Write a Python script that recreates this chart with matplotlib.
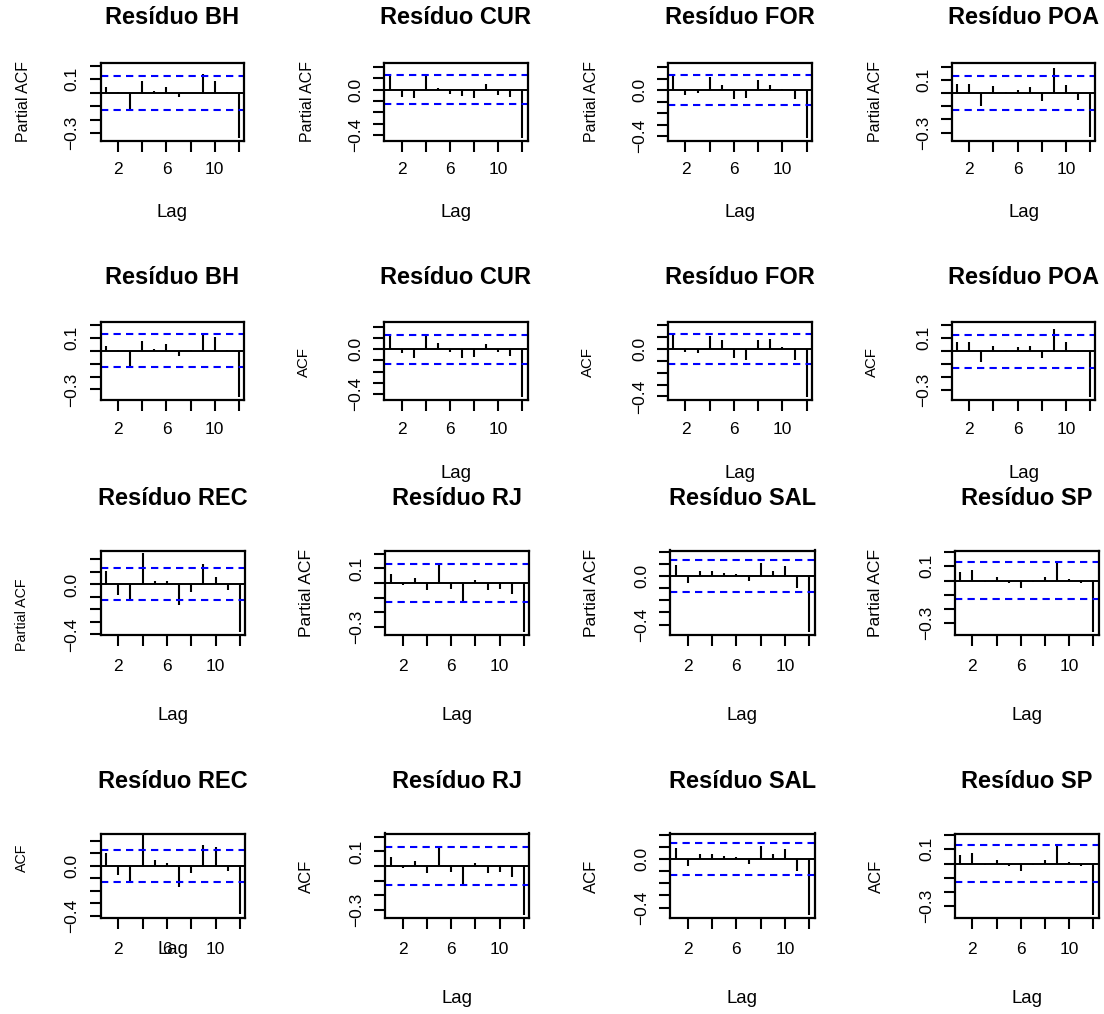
import matplotlib
matplotlib.use("Agg")
import matplotlib.pyplot as plt
import numpy as np

plt.rcParams['font.family'] = ['Liberation Sans', 'DejaVu Sans']

W, H = 1104, 1014
lags = np.arange(1, 13)

# valores (lags 1..12)
pacf_bh = [0.040, 0.004, -0.123, 0.088, 0.010, 0.040, -0.030, -0.004, 0.140, 0.083, 0.007, -0.335]
pacf_cur = [0.115, -0.063, -0.078, 0.127, 0.017, -0.040, -0.058, -0.078, 0.046, -0.049, -0.063, -0.424]
pacf_for = [0.126, -0.043, -0.023, 0.114, 0.043, -0.077, -0.071, 0.086, 0.043, 0.014, -0.074, -0.414]
pacf_poa = [0.070, 0.070, -0.096, 0.050, 0.005, 0.025, 0.045, -0.063, 0.190, 0.063, -0.050, -0.333]
acf_bh = [0.039, 0.004, -0.130, 0.075, 0.013, 0.052, -0.044, 0.004, 0.125, 0.106, 0.004, -0.356]
acf_cur = [0.118, -0.038, -0.074, 0.120, 0.059, -0.024, -0.074, -0.068, 0.050, -0.024, -0.062, -0.426]
acf_for = [0.127, -0.028, -0.034, 0.108, 0.074, -0.071, -0.096, 0.079, 0.085, 0.017, -0.096, -0.402]
acf_poa = [0.067, 0.067, -0.088, 0.039, 0.005, 0.031, 0.039, -0.054, 0.174, 0.073, -0.010, -0.352]
pacf_rec = [0.104, -0.083, -0.123, 0.250, 0.027, 0.027, -0.163, -0.064, 0.165, 0.059, -0.043, -0.380]
pacf_rj = [0.059, -0.014, 0.036, -0.045, 0.139, -0.041, -0.130, 0.023, -0.045, -0.039, -0.077, -0.334]
pacf_sal = [0.089, -0.061, 0.039, 0.044, 0.022, 0.014, -0.042, 0.106, 0.039, 0.083, -0.097, -0.458]
pacf_sp = [0.063, 0.075, -0.007, 0.028, -0.014, -0.052, -0.009, 0.028, 0.127, 0.014, -0.019, -0.359]
acf_rec = [0.100, -0.070, -0.130, 0.250, 0.050, 0.020, -0.170, -0.060, 0.170, 0.150, -0.040, -0.390]
acf_rj = [0.059, -0.014, 0.036, -0.045, 0.139, -0.041, -0.130, 0.023, -0.045, -0.039, -0.077, -0.334]
acf_sal = [0.089, -0.061, 0.039, 0.044, 0.022, 0.014, -0.042, 0.106, 0.039, 0.083, -0.097, -0.458]
acf_sp = [0.063, 0.075, -0.007, 0.028, -0.014, -0.052, -0.009, 0.028, 0.127, 0.014, -0.019, -0.359]

titles = ['Resíduo BH', 'Resíduo CUR', 'Resíduo FOR', 'Resíduo POA',
          'Resíduo BH', 'Resíduo CUR', 'Resíduo FOR', 'Resíduo POA',
          'Resíduo REC', 'Resíduo RJ', 'Resíduo SAL', 'Resíduo SP',
          'Resíduo REC', 'Resíduo RJ', 'Resíduo SAL', 'Resíduo SP']
ylabels = ['Partial ACF'] * 4 + [''] + ['ACF'] * 3 + ['Partial ACF'] * 4 + ['ACF'] * 4
series = [pacf_bh, pacf_cur, pacf_for, pacf_poa,
          acf_bh, acf_cur, acf_for, acf_poa,
          pacf_rec, pacf_rj, pacf_sal, pacf_sp,
          acf_rec, acf_rj, acf_sal, acf_sp]
ci = [0.126, 0.13, 0.13, 0.128,
      0.127, 0.129, 0.13, 0.128,
      0.128, 0.131, 0.131, 0.131,
      0.128, 0.131, 0.131, 0.131]
ylims = [(-0.355, 0.22), (-0.447, 0.233), (-0.437, 0.237), (-0.359, 0.227),
         (-0.382, 0.223), (-0.45, 0.241), (-0.43, 0.229), (-0.378, 0.225),
         (-0.405, 0.272), (-0.357, 0.223), (-0.486, 0.211), (-0.383, 0.211),
         (-0.42, 0.26), (-0.357, 0.223), (-0.486, 0.211), (-0.383, 0.211)]

# posicao das caixas em pixels (esquerda, direita) por coluna e (topo, base) por linha
cols_x = [[(100.7, 244.3), (384.3, 527.7), (668, 812), (952, 1095.3)]] * 2 + \
         [[(100.7, 245.3), (385.3, 529.3), (670.3, 814.7), (955, 1098.7)]] * 2
rows_y = [(63, 140.5), (322, 400), (550.5, 635), (833.5, 918)]
title_base = [24, 284, 505, 788]
lag_base = [217, 478, 720, 1003]
xpad = [8, 8, 9.5, 9.5]
ylab_y = [102, 361.7, 593, 876]
ylab_dx = [-77, -80, -79, -79]
ylab_size = [11.5, 10.8, 12.6, 12.0]

fig = plt.figure(figsize=(W / 100, H / 100), dpi=100)

for i in range(16):
    r, c = divmod(i, 4)
    left, right = cols_x[r][c]
    top, bottom = rows_y[r]
    ax = fig.add_axes([left / W, 1 - bottom / H, (right - left) / W, (bottom - top) / H])

    ax.vlines(lags, 0, series[i], color='black', lw=1.5)
    ax.axhline(0, color='black', lw=1.4)
    for v in (ci[i], -ci[i]):
        ax.axhline(v, color='blue', lw=1.5, ls=(0, (3.5, 2.5)))

    ax.set_xlim(0.56, 12.44)
    ax.set_ylim(*ylims[i])
    ax.set_xticks([2, 4, 6, 8, 10, 12])
    ax.set_xticklabels(['2', '', '6', '', '10', ''])

    lo = np.ceil(ylims[i][0] * 10 - 1e-6) / 10
    yt = np.round(np.arange(lo, ylims[i][1] + 1e-9, 0.1), 1) + 0.0
    ax.set_yticks(yt)
    ax.set_yticklabels([f'{v:.1f}'.replace('-', '\u2212') if k % 4 == 0 else ''
                        for k, v in enumerate(yt)])
    for lab in ax.get_yticklabels():
        lab.set_rotation(90)
        lab.set_va('center')

    ax.tick_params(axis='both', direction='out', length=7.7, width=1.5,
                   labelsize=12.5, color='black')
    ax.tick_params(axis='x', pad=xpad[r])
    ax.tick_params(axis='y', pad=7.5)
    for sp in ax.spines.values():
        sp.set_linewidth(1.6)

    cx = (left + right) / 2
    fig.text(cx / W, 1 - title_base[r] / H, titles[i], ha='center', va='baseline',
             fontsize=17, fontweight='bold')
    if not (r == 1 and c == 0):
        ly = lag_base[r]
        if r == 3 and c == 0:
            ly = 954
        fig.text(cx / W, 1 - ly / H, 'Lag', ha='center', va='baseline', fontsize=13.4)
    if ylabels[i]:
        yy = ylab_y[r]
        size = ylab_size[r]
        if r == 2 and c == 0:
            yy, size = 615, 10.3
        if r == 3 and c == 0:
            yy, size = 858, 10.3
        fig.text((left + ylab_dx[r]) / W, 1 - yy / H, ylabels[i], ha='center', va='center',
                 rotation=90, fontsize=size)

fig.savefig('out.png', dpi=100, facecolor='white')
